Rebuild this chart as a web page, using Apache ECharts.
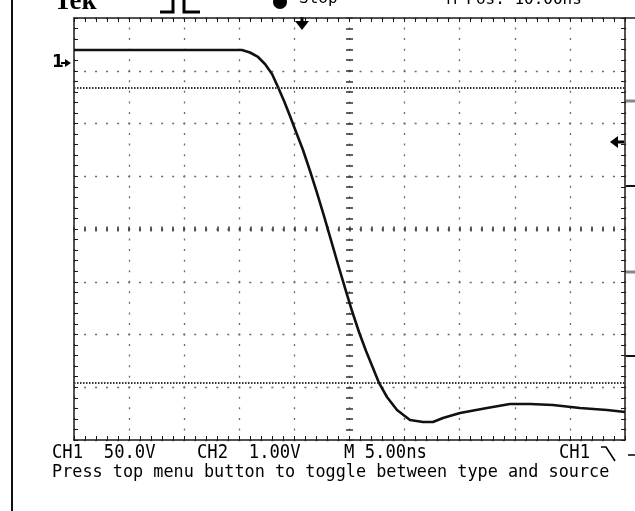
<!DOCTYPE html>
<html><head><meta charset="utf-8">
<script src="https://cdn.jsdelivr.net/npm/echarts@6/dist/echarts.min.js"></script>
<style>html,body{margin:0;padding:0;background:#fff}#c{width:635px;height:511px}</style>
</head><body><div id="c"></div>
<script>
// time (ns, 5 ns/div, 10 div) and CH1 trace in vertical divisions (center = 0)
const timeNs = [0, 15.24, 15.97, 16.70, 17.33, 17.97, 18.51, 19.06, 19.60, 20.15, 20.78, 21.42, 22.05, 22.69, 23.32, 23.96, 24.59, 25.23, 25.86, 26.50, 27.13, 27.68, 28.40, 29.31, 30.49, 31.67, 32.58, 33.48, 35.03, 37.48, 39.56, 41.38, 43.46, 45.91, 48.37, 50.00];
const ch1Div = [3.393, 3.393, 3.346, 3.261, 3.128, 2.938, 2.692, 2.427, 2.142, 1.839, 1.498, 1.100, 0.683, 0.246, -0.209, -0.673, -1.118, -1.555, -1.953, -2.313, -2.635, -2.919, -3.185, -3.431, -3.621, -3.659, -3.659, -3.583, -3.488, -3.393, -3.318, -3.318, -3.336, -3.393, -3.431, -3.469];
const cursorLevels = [2.673, -2.919];
const statusItems = ['CH1  50.0V', 'CH2  1.00V', 'M 5.00ns', 'CH1'];
const helpText = 'Press top menu button to toggle between type and source';
const headerItems = ['Tek', 'Stop', 'M Pos: 10.00ns'];
const groundLabel = '1';

const chart = echarts.init(document.getElementById('c'), null, {renderer: 'canvas'});
const dark = '#1a1a1a';
const tickBase = {show: true, inside: true, length: 4, lineStyle: {color: dark, width: 1}};
function xAx(extra) {
  return Object.assign({type: 'value', min: 0, max: 50, interval: 5, axisLabel: {show: false}, splitLine: {show: false}}, extra);
}
function yAx(extra) {
  return Object.assign({type: 'value', min: -4, max: 4, interval: 1, axisLabel: {show: false}, splitLine: {show: false}}, extra);
}
const mono = '"DejaVu Sans Mono", monospace';
const option = {
  backgroundColor: '#fff',
  animation: false,
  grid: {left: 74, top: 18, width: 551, height: 422, containLabel: false},
  xAxis: [
    xAx({position: 'bottom', axisLine: {show: true, onZero: false, lineStyle: {color: dark, width: 1.5}},
      axisTick: tickBase, minorTick: {show: true, splitNumber: 5, length: 4, lineStyle: {color: dark, width: 1}},
      splitLine: {show: true, lineStyle: {color: '#6a6a6a', width: 1.3, type: [2, 8.55], dashOffset: 1}}}),
    xAx({position: 'top', axisLine: {show: true, onZero: false, lineStyle: {color: dark, width: 1.5}},
      axisTick: tickBase, minorTick: {show: true, splitNumber: 5, length: 4, lineStyle: {color: dark, width: 1}}}),
    xAx({position: 'bottom', offset: -208.5, axisLine: {show: false, onZero: false},
      axisTick: {show: true, inside: true, length: 5, lineStyle: {color: '#333', width: 1.5}},
      minorTick: {show: true, splitNumber: 5, length: 5, lineStyle: {color: '#333', width: 1.5}}})
  ],
  yAxis: [
    yAx({position: 'left', axisLine: {show: true, onZero: false, lineStyle: {color: dark, width: 1.5}},
      axisTick: tickBase, minorTick: {show: true, splitNumber: 5, length: 4, lineStyle: {color: dark, width: 1}},
      splitLine: {show: true, lineStyle: {color: '#6a6a6a', width: 1.3, type: [2, 9.02], dashOffset: 1}}}),
    yAx({position: 'right', axisLine: {show: true, onZero: false, lineStyle: {color: dark, width: 1.5}},
      axisTick: tickBase, minorTick: {show: true, splitNumber: 5, length: 4, lineStyle: {color: dark, width: 1}}}),
    yAx({position: 'left', offset: -272, axisLine: {show: false, onZero: false},
      axisTick: {show: true, inside: true, length: 7, lineStyle: {color: '#333', width: 1.5}},
      minorTick: {show: true, splitNumber: 5, length: 7, lineStyle: {color: '#333', width: 1.5}}})
  ],
  series: [{
    type: 'line', xAxisIndex: 0, yAxisIndex: 0,
    data: timeNs.map((t, i) => [t, ch1Div[i]]),
    showSymbol: false, smooth: false, silent: true,
    lineStyle: {color: '#111', width: 2.6, join: 'round'},
    markLine: {
      silent: true, symbol: 'none', label: {show: false},
      lineStyle: {color: '#333', width: 2, type: [1.5, 1.5]},
      emphasis: {disabled: true},
      data: cursorLevels.map(v => ({yAxis: v}))
    }
  }],
  graphic: [
    {type: 'line', shape: {x1: 12, y1: 0, x2: 12, y2: 511}, style: {stroke: '#111', lineWidth: 2}},
    {type: 'line', shape: {x1: 625, y1: 18, x2: 635, y2: 18}, style: {stroke: dark, lineWidth: 1.5}},
    {type: 'rect', shape: {x: 626, y: 99.5, width: 9, height: 3}, style: {fill: '#888'}},
    {type: 'rect', shape: {x: 626, y: 185, width: 9, height: 2}, style: {fill: '#111'}},
    {type: 'rect', shape: {x: 626, y: 270.5, width: 9, height: 3}, style: {fill: '#888'}},
    {type: 'rect', shape: {x: 626, y: 355, width: 9, height: 2}, style: {fill: '#111'}},
    // trigger position arrow (top)
    {type: 'polygon', shape: {points: [[295, 21], [309, 21], [302, 30]]}, style: {fill: '#000'}},
    {type: 'rect', shape: {x: 300.5, y: 17, width: 3, height: 5}, style: {fill: '#000'}},
    // trigger level arrow (right)
    {type: 'polygon', shape: {points: [[610, 142], [618, 136], [618, 148]]}, style: {fill: '#000'}},
    {type: 'rect', shape: {x: 617, y: 140.5, width: 7, height: 3}, style: {fill: '#000'}},
    // ground marker
    {type: 'text', x: 52, y: 63, style: {text: groundLabel, font: 'bold 17px "DejaVu Sans"', fill: '#000', verticalAlign: 'middle'}},
    {type: 'polygon', shape: {points: [[65, 59], [71, 63], [65, 67]]}, style: {fill: '#000'}},
    {type: 'rect', shape: {x: 61, y: 62, width: 5, height: 2}, style: {fill: '#000'}},
    // header (cut off at top)
    {type: 'text', x: 54, y: 16, style: {text: headerItems[0], font: 'bold 27px "Liberation Serif"', fill: '#000', verticalAlign: 'bottom'}},
    {type: 'polyline', shape: {points: [[160, 12], [173, 12], [173, -6], [184, -6], [184, 12], [200, 12]]}, style: {stroke: '#000', lineWidth: 3, fill: null}},
    {type: 'circle', shape: {cx: 280, cy: 2, r: 7}, style: {fill: '#000'}},
    {type: 'text', x: 299, y: 7, style: {text: headerItems[1], font: '16px ' + mono, fill: '#000', verticalAlign: 'bottom'}},
    {type: 'text', x: 447, y: 8, style: {text: headerItems[2], font: '16px ' + mono, fill: '#000', verticalAlign: 'bottom'}},
    // status row
    {type: 'text', x: 52, y: 453, scaleX: 0.86, style: {text: statusItems[0], font: '20px ' + mono, fill: '#000', verticalAlign: 'middle'}},
    {type: 'text', x: 197, y: 453, scaleX: 0.86, style: {text: statusItems[1], font: '20px ' + mono, fill: '#000', verticalAlign: 'middle'}},
    {type: 'text', x: 344, y: 453, scaleX: 0.86, style: {text: statusItems[2], font: '20px ' + mono, fill: '#000', verticalAlign: 'middle'}},
    {type: 'text', x: 559, y: 453, scaleX: 0.86, style: {text: statusItems[3], font: '20px ' + mono, fill: '#000', verticalAlign: 'middle'}},
    {type: 'polyline', shape: {points: [[601, 447], [606, 447], [615, 461]]}, style: {stroke: '#000', lineWidth: 1.6, fill: null}},
    {type: 'line', shape: {x1: 628, y1: 455, x2: 635, y2: 455}, style: {stroke: '#000', lineWidth: 1.5}},
    // help text
    {type: 'text', x: 52, y: 473, scaleX: 0.99, style: {text: helpText, font: '17px ' + mono, fill: '#000', verticalAlign: 'middle'}}
  ]
};
chart.setOption(option);
</script></body></html>
